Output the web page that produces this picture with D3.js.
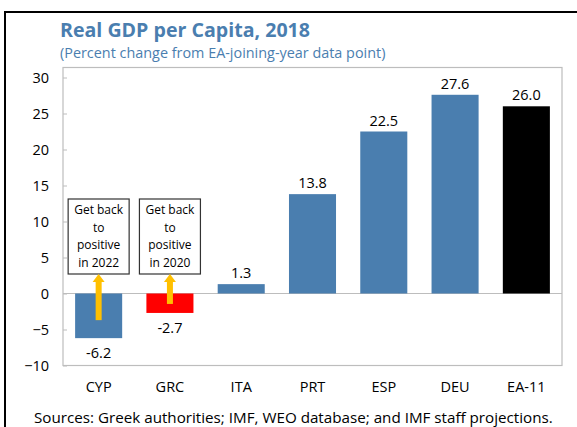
<!DOCTYPE html>
<html><head><meta charset="utf-8">
<script src="https://cdn.jsdelivr.net/npm/d3@7"></script>
<style>body{margin:0;background:#fff}svg{display:block;font-family:"Open Sans",sans-serif}</style>
</head><body><svg id="c" width="577" height="427"></svg>
<script>
const categories = ["CYP","GRC","ITA","PRT","ESP","DEU","EA-11"];
const values = [-6.2,-2.7,1.3,13.8,22.5,27.6,26.0];
const valueLabels = ["-6.2","-2.7","1.3","13.8","22.5","27.6","26.0"];
const barColors = ["#4A7EAF","#FF0000","#4A7EAF","#4A7EAF","#4A7EAF","#4A7EAF","#000000"];
const yTicks = [-10,-5,0,5,10,15,20,25,30];
const notes = [{cat:"CYP", lines:["Get back","to","positive","in 2022"]},{cat:"GRC", lines:["Get back","to","positive","in 2020"]}];

const svg = d3.select("#c");
const blue = "#4A7EAF";
svg.append("rect").attr("x",5).attr("y",12).attr("width",620).attr("height",500).attr("fill","none").attr("stroke","#000").attr("stroke-width",2);
svg.append("text").attr("x",60).attr("y",37).attr("fill",blue).attr("font-size",19.6).attr("font-weight",700).text("Real GDP per Capita, 2018");
svg.append("text").attr("x",60).attr("y",57.5).attr("fill",blue).attr("font-size",14.4).text("(Percent change from EA-joining-year data point)");

const L=63,R=562,T=67.5,B=365.5;
const x = d3.scaleBand().domain(categories).range([L,R]).paddingInner(0.34).paddingOuter(0.17);
const y = d3.scaleLinear().domain([-10,30]).range([B,77.5]);

svg.append("rect").attr("x",L).attr("y",T).attr("width",R-L).attr("height",B-T).attr("fill","none").attr("stroke","#BDBDBD").attr("stroke-width",1.2);

const ya = svg.append("g").attr("transform",`translate(${L},0)`).call(d3.axisLeft(y).tickValues(yTicks).tickSize(-4).tickPadding(14).tickFormat(d3.format("d")));
ya.select(".domain").remove();
ya.selectAll("line").attr("stroke","#BDBDBD");
ya.selectAll("text").attr("font-size",14.5).attr("fill","#000").attr("font-family","Open Sans, sans-serif");

svg.append("line").attr("x1",L).attr("x2",R).attr("y1",y(0)).attr("y2",y(0)).attr("stroke","#BDBDBD").attr("stroke-width",1.2);

svg.selectAll(".bar").data(categories).join("rect")
  .attr("x",d=>x(d)).attr("width",x.bandwidth())
  .attr("y",(d,i)=>y(Math.max(0,values[i]))).attr("height",(d,i)=>Math.abs(y(values[i])-y(0)))
  .attr("fill",(d,i)=>barColors[i]);

svg.selectAll(".vl").data(categories).join("text")
  .attr("x",d=>x(d)+x.bandwidth()/2)
  .attr("y",(d,i)=>values[i]>=0 ? y(values[i])-6 : y(values[i])+20)
  .attr("text-anchor","middle").attr("font-size",14.5).attr("fill","#000")
  .text((d,i)=>valueLabels[i]);

svg.selectAll(".cl").data(categories).join("text")
  .attr("x",d=>x(d)+x.bandwidth()/2).attr("y",392)
  .attr("text-anchor","middle").attr("font-size",14.5).attr("fill","#000").text(d=>d);

// annotations
notes.forEach(n=>{
  const i = categories.indexOf(n.cat);
  const cx = x(n.cat)+x.bandwidth()/2;
  svg.append("rect").attr("x",cx-30.5).attr("y",199).attr("width",61).attr("height",75).attr("fill","#fff").attr("stroke","#333").attr("stroke-width",1.2);
  n.lines.forEach((t,k)=>{
    svg.append("text").attr("x",cx).attr("y",214+k*17.5).attr("text-anchor","middle").attr("font-size",12).attr("fill","#000").text(t);
  });
  const tip = 274, base = y(values[i])+ (i===0?-18:-9);
  svg.append("rect").attr("x",cx-3).attr("y",tip+7).attr("width",6).attr("height",base-tip-7).attr("fill","#FFC000");
  svg.append("path").attr("d",`M${cx-6},${tip+8}L${cx},${tip}L${cx+6},${tip+8}Z`).attr("fill","#FFC000");
});

svg.append("text").attr("x",34).attr("y",423).attr("font-size",15.2).attr("fill","#000").text("Sources: Greek authorities; IMF, WEO database; and IMF staff projections.");
</script></body></html>
